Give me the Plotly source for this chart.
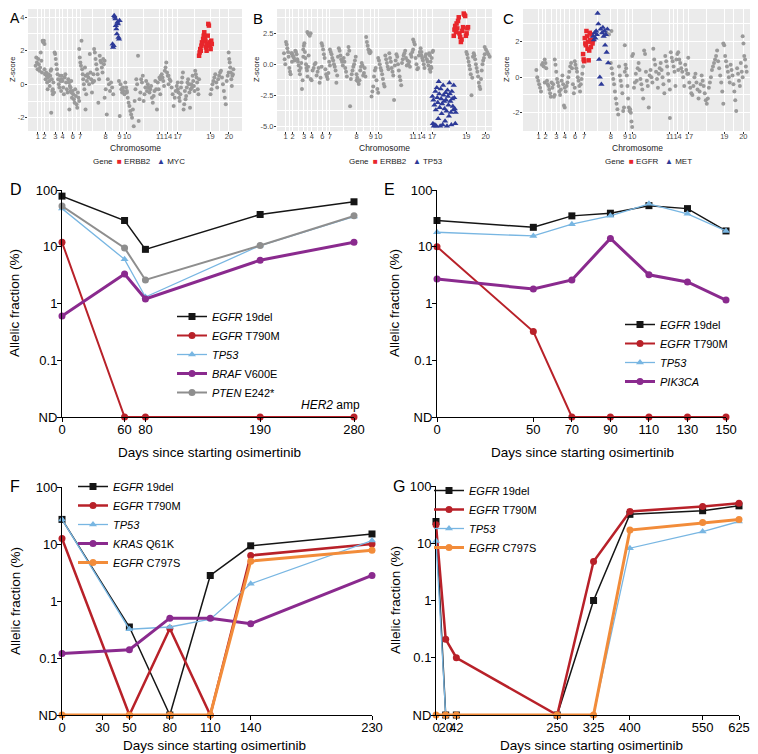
import plotly.graph_objects as go

# reference picture size, and the page's default body margin the figure sits inside
W, H = 758, 754
OFF = 8
FW, FH = W - OFF, H - OFF
FONT = 'Liberation Sans, Arial, sans-serif'

# ---------------- panels A-C: copy-number z-scores ----------------
CHROM = ['1', '2', '3', '4', '6', '7', '8', '9', '10', '11', '14', '17', '19', '20']

# bin positions of chromosome labels (genome-ordered bin index)
A_CHROM_POS = [85, 105, 140, 163, 195, 218, 298, 341, 365, 469, 494, 525, 628, 686]
B_CHROM_POS = [107, 128, 162, 186, 217, 240, 320, 363, 385, 490, 515, 547, 650, 708]
C_CHROM_POS = [117, 138, 170, 195, 226, 253, 333, 376, 397, 510, 533, 567, 673, 730]

# (first bin, last bin, z-scores in bin order)
A_GREY = [
    (78, 98, [1.1, 1.6, 1.3, 0.9, 1.5, 1.2, 0.8, 1.0, 1.9, 1.4, 0.7]),
    (100, 106, [2.6, 2.5, 2.6, 2.4]),
    (106, 132, [0.9, 0.6, 0.3, 0.7, 0.5, 0.1, -0.3, 0.4, 0.6, 0.2, -0.1, 0.5, 0.8, 0.9, 0.3, -0.4, -0.6]),
    (127, 127, [-1.7]),
    (132, 160, [-0.3, 0.1, -0.5, 1.9, 1.8, 1.5, 1.2, 0.9, 0.6, 0.3, 0.0, -0.2, 0.5, 0.2, -0.4, 0.3]),
    (160, 190, [0.5, 0.2, -0.2, -0.6, 0.4, 0.6, 0.1, -0.3, -0.5, 0.3, 0.1, -0.1, -0.4, 0.2]),
    (184, 184, [-1.5]),
    (188, 215, [-0.2, -0.5, -0.8, -0.4, -0.6, -0.9, -1.1, -0.3, -0.7, -1.2, -1.4, -0.5, -0.8, -1.0]),
    (215, 235, [2.1, 1.6, 1.3, 1.1, 2.6, 0.9, 0.6, 0.3, 0.0, -0.3, 1.0, 0.5]),
    (235, 235, [-1.5]),
    (237, 262, [-0.6, 0.2, 0.6, 0.4, 0.0, 1.8, 0.7, 0.3, -0.5, 0.1, 0.6, 0.2]),
    (262, 295, [2.1, 1.9, 1.5, 1.2, 0.9, 0.6, -1.1, 0.3, 1.7, 1.4, 1.3, 1.0, 0.7, 1.5, 1.2, 1.4]),
    (295, 322, [-0.8, -0.3, -1.8, 0.3, 0.0, -0.4, 0.1, -0.2, -0.6]),
    (340, 365, [0.2, -1.9, 0.0, -0.3, -0.5, -0.2, -0.4, -0.6, 0.1, -0.2, -0.5]),
    (365, 400, [-0.4, -0.8, -1.1, -1.3, -1.6, -1.8, -2.0, -1.5, -2.5, -1.0, -0.3, 0.3, 0.0, 1.7]),
    (402, 470, [-2.2, -0.9, -0.5, 0.3, 0.1, 0.5, -1.0, -0.6, -0.2, 0.2, -0.4, 0.0, -0.2, -0.5,
                -0.3, -0.1, -0.8, -1.1, -0.7, -0.4, 0.2, -0.3, -1.5, 0.1, -0.3, 0.4, -0.6]),
    (470, 496, [0.3, 0.5, 0.6, 0.4, 0.2, -0.1, 0.8, 1.0, 1.3, 0.7, 0.5, 0.0]),
    (496, 525, [0.5, 0.3, 0.2, -0.2, -0.6, -1.3, -0.8, -0.4, -0.1, 0.1]),
    (525, 592, [-0.3, -0.5, -0.8, -1.0, -0.6, -0.2, 0.1, 0.4, 0.7, -1.5, -1.2, -0.4, -0.9, -0.7,
                -0.2, 0.1, 0.3, 0.0, -0.5, -1.4, -0.3, 0.0, -0.2, 0.5, 0.2, -0.1, -0.4, 0.8,
                0.6, 0.4, 0.1, -0.3, -0.6, 0.3]),
    (628, 685, [-0.6, -0.3, 0.0, 0.2, 0.4, 0.6, 0.1, -0.2, 0.3, 0.5, 0.7, 0.8, 0.4, 0.0,
                -0.4, -0.8, -1.2, 0.2, 0.5, 0.7]),
    (685, 700, [1.9, 1.5, 1.3, 1.0, 0.7, 0.3, -0.1, 0.5, 0.6, 0.9]),
]
A_ERBB2 = [(592, 632, [1.7, 1.9, 2.1, 2.0, 2.3, 2.5, 2.4, 2.7, 2.9, 3.1, 2.8, 2.6, 2.2, 2.0,
                       2.4, 2.9, 3.6, 3.5, 2.5, 2.3, 2.1, 2.6, 2.4])]
A_MYC = [(320, 342, [2.4, 2.2, 2.3, 4.1, 4.0, 3.9, 3.5, 3.3, 3.0, 3.7, 3.6, 2.8, 2.7, 3.8])]

B_GREY = [
    (102, 126, [0.9, 0.4, 0.0, 1.8, 1.6, 1.3, 1.0, 0.6, -0.3, -0.6, -0.8, 0.9, 0.2]),
    (126, 160, [0.9, 0.7, 0.6, 0.5, 0.3, 1.1, 1.0, 0.8, 0.4, 0.2, -0.1, -0.5, -0.8, -0.3,
                0.1, -2.0, -1.3, 0.6]),
    (160, 176, [1.2, 1.5, 1.7, 1.0, 0.5, 0.0, -0.3, -0.5, -1.0, -0.2, 0.7]),
    (172, 182, [2.6, 2.5, 2.4, 2.3, 2.5]),
    (182, 215, [-1.2, -1.3, -0.5, -0.3, 0.0, 0.1, -0.9, -0.6, -0.3, -1.5, -1.1, -0.2]),
    (215, 240, [1.7, 1.5, 1.2, 0.8, 0.5, -0.4, -0.8, -1.0, -1.2, -0.7, 0.2, -0.1]),
    (240, 320, [1.2, 1.0, 0.8, 0.5, 0.3, 0.0, -0.2, -0.5, -1.5, -0.9, 0.6, 1.3, 1.1, 0.7,
                0.4, 0.2, -0.1, 0.5, 0.2, -0.3, -0.6, -1.0, 0.8, 1.4, 1.1, -3.4, -1.2, -0.8,
                -0.5, -0.2, 0.0, 0.3, 0.6, -1.3]),
    (320, 360, [-0.8, -1.1, -1.4, -1.6, -1.3, -0.5, -0.2, 0.1, -0.1, -0.9, -0.7, -0.3, -1.0,
                2.2, 1.8, 1.5, 1.2, 1.0, 0.9]),
    (360, 385, [1.1, 1.0, -2.6, -2.2, -1.8, -1.0, -0.5, -0.3, -1.3, -2.0, -2.3]),
    (385, 490, [0.5, 0.3, 0.0, -0.3, -0.5, -0.8, -1.2, -1.6, -1.8, 0.7, 0.4, 0.1, -0.2, -0.4,
                0.9, 0.5, 0.2, -0.3, -0.6, -0.9, -2.9, -0.1, 0.3, 0.8, 0.6, 0.0, -0.5, -1.0,
                -1.3, -1.7, 0.1, 0.4, 0.7, 0.9, 1.1, 0.5, -0.1, 0.3, 0.0, 0.2, -0.2, 0.8,
                0.6, 1.0, 1.2]),
    (490, 515, [2.0, 1.8, 1.6, 0.5, 0.0, -0.4, -0.3, 0.7, 1.0, 1.3, 1.0]),
    (515, 545, [0.7, 0.5, 0.3, 0.0, -0.3, 0.6, 0.8, 0.4, 0.2, -0.1, 0.9, 0.7, 0.2, -0.3]),
    (540, 550, [-0.4, -0.6, -0.2, 0.5, 1.0, 1.1]),
    (650, 705, [1.0, 0.8, 0.5, 0.2, -0.1, -0.4, -0.8, -2.5, -1.1, 0.6, 0.9, 0.7, 0.4, 0.0,
                -0.3, -0.6, -1.0, -1.5, -1.8, -2.0, -1.2, -0.5, 0.0, 0.3, 0.5, 0.8]),
    (705, 720, [1.4, 1.2, 1.0, 0.8, 0.6]),
]
B_ERBB2 = [(612, 655, [2.3, 2.8, 3.1, 2.6, 3.3, 2.9, 3.5, 3.8, 2.5, 2.2, 1.8, 2.0, 2.7, 3.0,
                       4.1, 4.0, 3.9, 2.3, 2.5, 2.9, 3.0])]
B_TP53 = [(548, 618, [-2.6, -4.8, -2.9, -5.0, -3.3, -4.9, -2.2, -3.7, -5.0, -1.9, -2.7, -3.1,
                      -4.4, -1.4, -2.4, -3.5, -5.0, -2.0, -2.8, -4.0, -3.2, -4.9, -1.7, -2.5,
                      -3.0, -3.6, -4.6, -2.3, -2.9, -3.8, -5.0, -2.1, -2.6, -3.3, -4.2, -1.5,
                      -2.4, -3.0, -3.9, -4.9, -2.2, -2.8, -3.4, -3.7, -1.7, -2.7, -3.6, -4.8,
                      -3.9])]

C_GREY = [
    (110, 135, [0.4, 0.0, -0.2, -0.4, -0.6, -0.8, 0.7, 0.8, 0.6, -0.3]),
    (135, 165, [1.0, 0.8, 0.5, -0.2, -0.4, -0.5, -0.7, -0.9, -1.1, -0.3, -0.6, -0.4, -1.1, -1.0]),
    (165, 195, [1.0, 0.7, 0.3, -0.1, -0.3, -0.5, -0.8, -1.0, -0.7, -0.2, 0.1, -0.4, -1.6, -0.6]),
    (195, 225, [-1.7, -0.8, -0.5, -0.3, 0.0, 0.3, 0.6, 0.8, 0.5, -0.4, -0.9, -0.6]),
    (225, 250, [0.9, 0.7, 0.5, 0.3, 0.0, -0.2, -0.5, -0.8, -0.4, -0.1, 0.2, 0.6]),
    (320, 335, [2.5, 2.4, 2.6]),
    (333, 375, [0.8, 0.5, 0.2, -0.1, -0.4, -0.8, -1.2, -1.5, -1.8, -2.1, 0.6, 0.1, -0.2, -0.5,
                -0.9, -1.9, -1.7, 0.3]),
    (375, 397, [1.8, 0.7, 0.5, 0.1, -0.5, -1.2, -1.7, -1.9, -1.8, -2.0, -2.5, -2.8]),
    (397, 510, [1.2, 1.3, -0.6, -0.3, 0.2, -0.2, 0.5, 0.8, 0.4, -0.1, -0.4, -0.7, -1.2, 1.5,
                1.3, 0.3, -0.2, -0.5, -1.7, 0.1, 0.4, 0.0, -0.3, 1.6, 1.0, 0.7, 0.3, -0.1,
                -0.6, 0.2, 0.5, 0.8, 0.4, 0.0, -0.4, -0.9, 1.2, 0.9, 0.6, 0.2, -0.2, -0.7]),
    (510, 535, [-2.3, 1.4, 1.1, 0.9, 0.6, 0.3, -0.5, 1.0, 1.3, 0.4]),
    (535, 565, [1.4, 1.0, 0.8, 0.5, 0.3, 0.0, -0.5, 0.7, 0.4, 0.2, 1.1]),
    (565, 670, [0.2, -0.3, -0.6, -0.9, -1.0, -0.5, 0.0, 0.2, -0.3, -0.7, -1.2, -0.8, -0.4, 0.1,
                -0.2, -0.5, -0.9, -1.3, -1.5, -1.2, -0.6, -0.3, 0.0, 0.4, 0.6, 0.8, 1.0, 1.2,
                1.5, 0.9, 0.5, 0.1, -0.3, -0.8, -1.5]),
    (670, 728, [1.9, 1.8, 1.2, 0.9, 0.6, 0.3, 0.0, -0.3, 0.7, 0.4, 0.1, -0.4, -0.8, -1.3,
                -1.9, 0.5, 0.2, -0.2, -0.5, 0.8, 0.3, 0.0]),
    (728, 740, [2.3, 1.9, 1.2, 1.0, 0.6, 0.3]),
]
C_EGFR = [(250, 280, [1.3, 1.0, 0.9, 2.2, 1.9, 1.8, 2.6, 2.3, 1.6, 2.0, 0.95, 1.5, 2.5, 2.1,
                      1.7, 2.4, 2.0, 1.9, 2.1])]
C_MET = [(280, 325, [2.3, 2.1, 2.5, 2.2, 2.6, 2.4, 3.6, 3.0, 1.0, 0.0, 2.7, -0.4, 2.5, 2.8,
                     2.3, 2.6, 1.8, 2.4, 1.4, 2.7, 0.8])]

# ---------------- panels D-G: allelic fraction over time ----------------
ND = 0.01  # not detected
AF_TICKS = [0.01, 0.1, 1, 10, 100]
AF_LABELS = ['ND', '0.1', '1', '10', '100']

D_DAYS = [0, 60, 80, 190, 280]
D_EGFR_DEL = [78, 29, 9, 37, 62]
D_T790M = [12, ND, ND, ND, ND]
D_TP53 = [47, 6, 1.3, 10.5, 34]
D_BRAF = [0.6, 3.3, 1.2, 5.8, 12]
D_PTEN = [52, 9.5, 2.6, 10.5, 35]

E_DAYS = [0, 50, 70, 90, 110, 130, 150]
E_EGFR_DEL = [29, 22, 35, 39, 53, 47, 19]
E_T790M = [10, 0.32, ND, ND, ND, ND, ND]
E_TP53 = [18, 15.5, 25, 35, 57, 38, 19]
E_PIK3CA = [2.7, 1.8, 2.6, 14, 3.2, 2.4, 1.15]

F_DAYS = [0, 50, 80, 110, 140, 230]
F_TICKS = [0, 30, 50, 80, 110, 140, 230]
F_EGFR_DEL = [27, 0.35, ND, 2.8, 9.3, 15]
F_T790M = [12.5, ND, 0.33, ND, 6.3, 10]
F_TP53 = [27, 0.32, 0.35, 0.48, 2.0, 11.5]
F_KRAS = [0.12, 0.14, 0.5, 0.5, 0.4, 2.8]
F_C797S = [ND, ND, ND, ND, 5, 7.8]

G_DAYS = [0, 20, 42, 250, 325, 400, 550, 625]
G_EGFR_DEL = [24, ND, ND, ND, 1.0, 32, 37, 45]
G_T790M = [21, 0.21, 0.1, ND, 4.8, 36, 44, 50]
G_TP53 = [11, ND, ND, ND, ND, 8.2, 16, 24]
G_C797S = [ND, ND, ND, ND, ND, 17, 23, 26]

BLACK = '#151515'
RED = '#B82129'
LBLUE = '#78B6E2'
PURPLE = '#8A2A8E'
GREY = '#8E8E8E'
ORANGE = '#F28C3A'

PT_GREY = '#9A9A9A'
PT_RED = '#E8262B'
PT_BLUE = '#2D3A98'


def spread(segments):
    xs, ys = [], []
    for x0, x1, vals in segments:
        step = (x1 - x0) / max(len(vals) - 1, 1)
        for i, v in enumerate(vals):
            xs.append(x0 + i * step)
            ys.append(v)
    return xs, ys


# page pixel -> paper fraction
def px(x):
    return (x - OFF) / FW


def py(y):
    return 1 - (y - OFF) / FH


def xd(left, right):
    return [px(left), px(right)]


def yd(top, bottom):
    return [py(bottom), py(top)]


fig = go.Figure()

# ---- top scatter panels ----
top_panels = [
    ('x', 'y', A_GREY, [(A_ERBB2, PT_RED, 'square', 4.5), (A_MYC, PT_BLUE, 'triangle-up', 5.5)]),
    ('x2', 'y2', B_GREY, [(B_ERBB2, PT_RED, 'square', 4.5), (B_TP53, PT_BLUE, 'triangle-up', 5.5)]),
    ('x3', 'y3', C_GREY, [(C_EGFR, PT_RED, 'square', 4.5), (C_MET, PT_BLUE, 'triangle-up', 5.5)]),
]
for xa, ya, grey, genes in top_panels:
    gx, gy = spread(grey)
    fig.add_trace(go.Scatter(x=gx, y=gy, xaxis=xa, yaxis=ya, mode='markers',
                             marker=dict(color=PT_GREY, size=4), showlegend=False))
    for seg, col, sym, size in genes:
        sx, sy = spread(seg)
        fig.add_trace(go.Scatter(x=sx, y=sy, xaxis=xa, yaxis=ya, mode='markers',
                                 marker=dict(color=col, size=size, symbol=sym), showlegend=False))

# ---- bottom time-course panels ----
def course(xa, ya, legend, days, vals, name, color, symbol, width, msize=7):
    fig.add_trace(go.Scatter(
        x=days, y=vals, xaxis=xa, yaxis=ya, name=name, legend=legend,
        mode='lines+markers', cliponaxis=False,
        line=dict(color=color, width=width),
        marker=dict(color=color, symbol=symbol, size=msize),
    ))


course('x4', 'y4', 'legend', D_DAYS, D_EGFR_DEL, '<i>EGFR</i> 19del', BLACK, 'square', 1.5)
course('x4', 'y4', 'legend', D_DAYS, D_T790M, '<i>EGFR</i> T790M', RED, 'circle', 2)
course('x4', 'y4', 'legend', D_DAYS, D_TP53, '<i>TP53</i>', LBLUE, 'triangle-up', 1.3)
course('x4', 'y4', 'legend', D_DAYS, D_BRAF, '<i>BRAF</i> V600E', PURPLE, 'circle', 3)
course('x4', 'y4', 'legend', D_DAYS, D_PTEN, '<i>PTEN</i> E242*', GREY, 'circle', 2)

course('x5', 'y5', 'legend2', E_DAYS, E_EGFR_DEL, '<i>EGFR</i> 19del', BLACK, 'square', 1.5)
course('x5', 'y5', 'legend2', E_DAYS, E_T790M, '<i>EGFR</i> T790M', RED, 'circle', 2)
course('x5', 'y5', 'legend2', E_DAYS, E_TP53, '<i>TP53</i>', LBLUE, 'triangle-up', 1.3)
course('x5', 'y5', 'legend2', E_DAYS, E_PIK3CA, '<i>PIK3CA</i>', PURPLE, 'circle', 3)

course('x6', 'y6', 'legend3', F_DAYS, F_EGFR_DEL, '<i>EGFR</i> 19del', BLACK, 'square', 1.5)
course('x6', 'y6', 'legend3', F_DAYS, F_T790M, '<i>EGFR</i> T790M', RED, 'circle', 2.5)
course('x6', 'y6', 'legend3', F_DAYS, F_TP53, '<i>TP53</i>', LBLUE, 'triangle-up', 1.3)
course('x6', 'y6', 'legend3', F_DAYS, F_KRAS, '<i>KRAS</i> Q61K', PURPLE, 'circle', 3)
course('x6', 'y6', 'legend3', F_DAYS, F_C797S, '<i>EGFR</i> C797S', ORANGE, 'circle', 3)

course('x7', 'y7', 'legend4', G_DAYS, G_EGFR_DEL, '<i>EGFR</i> 19del', BLACK, 'square', 1.5)
course('x7', 'y7', 'legend4', G_DAYS, G_T790M, '<i>EGFR</i> T790M', RED, 'circle', 2.5)
course('x7', 'y7', 'legend4', G_DAYS, G_TP53, '<i>TP53</i>', LBLUE, 'triangle-up', 1.3)
course('x7', 'y7', 'legend4', G_DAYS, G_C797S, '<i>EGFR</i> C797S', ORANGE, 'circle', 3)

# ---- axes ----
def mids(pos):
    return [(a + b) / 2 for a, b in zip(pos[:-1], pos[1:])]


def top_x(domain, rng, pos):
    return dict(domain=domain, range=rng, tickmode='array', tickvals=pos, ticktext=CHROM,
                tickangle=0, showgrid=True, gridcolor='white', gridwidth=1.1, zeroline=False,
                showline=False, ticks='outside', ticklen=2, tickcolor='#333333', tickwidth=0.8,
                tickfont=dict(size=7.5, color='#4D4D4D'), automargin=False,
                ticklabelstandoff=-4,
                minor=dict(tickmode='array', tickvals=mids(pos), showgrid=True,
                           gridcolor='white', gridwidth=0.5))


def top_y(domain, rng, vals, labels, minor):
    return dict(domain=domain, range=rng, tickmode='array', tickvals=vals, ticktext=labels,
                showgrid=True, gridcolor='white', gridwidth=1.1, zeroline=False, showline=False,
                ticks='outside', ticklen=2, tickcolor='#333333', tickwidth=0.8,
                tickfont=dict(size=7.5, color='#4D4D4D'), automargin=False,
                ticklabelstandoff=-1,
                minor=dict(tickmode='array', tickvals=minor, showgrid=True,
                           gridcolor='white', gridwidth=0.5))


def af_x(domain, rng, ticks, anchor):
    return dict(domain=domain, range=rng, tickmode='array', tickvals=ticks, tickangle=0,
                showgrid=False, zeroline=False, showline=True, linecolor='black',
                linewidth=1, ticks='outside', ticklen=4, tickcolor='black',
                tickfont=dict(size=13, color='black'), anchor=anchor, automargin=False,
                ticklabelstandoff=-4)


def af_y(domain, anchor):
    return dict(domain=domain, type='log', range=[-2, 2], tickmode='array',
                tickvals=AF_TICKS, ticktext=AF_LABELS, showgrid=False, zeroline=False,
                showline=True, linecolor='black', linewidth=1, ticks='outside', ticklen=4,
                tickcolor='black', tickfont=dict(size=13, color='black'), anchor=anchor,
                automargin=False, ticklabelstandoff=-3)


TOP = yd(9, 131)
layout_axes = dict(
    xaxis=top_x(xd(28, 242), [54, 727], A_CHROM_POS),
    yaxis=top_y(TOP, [-2.79, 4.49], [-2, 0, 2, 4], ['-2', '0', '2', '4'], [-1, 1, 3]),
    xaxis2=top_x(xd(277, 492), [81, 727], B_CHROM_POS),
    yaxis2=top_y(TOP, [-5.4, 4.47], [-5, -2.5, 0, 2.5], ['-5.0', '-2.5', '0.0', '2.5'],
                 [-3.75, -1.25, 1.25, 3.75]),
    xaxis3=top_x(xd(523, 750), [70, 750], C_CHROM_POS),
    yaxis3=top_y(TOP, [-3.03, 3.84], [-2, 0, 2], ['-2', '0', '2'], [-3, -1, 1, 3]),
    xaxis4=af_x(xd(62, 354), [0, 280], D_DAYS, 'y4'),
    yaxis4=af_y(yd(190, 417), 'x4'),
    xaxis5=af_x(xd(437, 726), [0, 150], E_DAYS, 'y5'),
    yaxis5=af_y(yd(190, 417), 'x5'),
    xaxis6=af_x(xd(62, 372), [0, 230], F_TICKS, 'y6'),
    yaxis6=af_y(yd(487, 715), 'x6'),
    xaxis7=af_x(xd(436, 739), [0, 625], G_DAYS, 'y7'),
    yaxis7=af_y(yd(486, 715), 'x7'),
)
for xa, ya in [('x', 'y'), ('x2', 'y2'), ('x3', 'y3')]:
    layout_axes['xaxis' + xa[1:]]['anchor'] = ya
    layout_axes['yaxis' + ya[1:]]['anchor'] = xa

# grey ggplot panel backgrounds
shapes = []
for xa, ya in [('x', 'y'), ('x2', 'y2'), ('x3', 'y3')]:
    shapes.append(dict(type='rect', xref=xa + ' domain', yref=ya + ' domain', x0=0, x1=1,
                       y0=0, y1=1, fillcolor='#EBEBEB', line=dict(width=0), layer='below'))

# ---- annotations: panel letters, axis titles, gene keys ----
ann = []


def text(x, y, s, size, color='black', angle=0, xanchor='center', yanchor='middle'):
    ann.append(dict(x=px(x), y=py(y), xref='paper', yref='paper', text=s, showarrow=False,
                    font=dict(size=size, color=color, family=FONT), textangle=angle,
                    xanchor=xanchor, yanchor=yanchor))


for letter, x, y, ya, size in [('A', 8, 8, 'top', 14), ('B', 251, 8, 'top', 15),
                               ('C', 501, 8, 'top', 15),
                               ('D', 8, 190, 'middle', 16), ('E', 382, 190, 'middle', 16),
                               ('F', 8, 486, 'middle', 16), ('G', 391, 486, 'middle', 16)]:
    text(x, y, letter, size, xanchor='left', yanchor=ya)

for cx, zx in [(135, 12), (384, 256), (637, 506)]:
    text(cx, 147.5, 'Chromosome', 8.5, '#222222')
    text(zx, 70, 'Z-score', 7.5, '#222222', angle=-90)

gene_keys = [(139, 'ERBB2', 'MYC'), (396, 'ERBB2', 'TP53'), (648, 'EGFR', 'MET')]
for cx, red_gene, blue_gene in gene_keys:
    text(cx, 161,
         'Gene  <span style="color:%s">\u25A0</span> %s   <span style="color:%s">\u25B2</span> %s'
         % (PT_RED, red_gene, PT_BLUE, blue_gene), 8, '#222222')

for cx, cy, yx, yy in [(210, 453, 15, 303), (582, 453, 395, 303),
                       (214, 745, 15, 601), (591, 745, 395, 600)]:
    text(cx, cy, 'Days since starting osimertinib', 13.5)
    text(yx, yy, 'Allelic fraction (%)', 13.5, angle=-90)

text(362, 405, '<i>HER2</i> amp', 12, xanchor='right')

legend_style = dict(bgcolor='rgba(0,0,0,0)', font=dict(size=11, family=FONT, color='black'),
                    xanchor='left', yanchor='top', tracegroupgap=0, itemwidth=30)

fig.update_layout(
    width=FW, height=FH, autosize=False,
    margin=dict(l=0, r=0, t=0, b=0),
    paper_bgcolor='white', plot_bgcolor='rgba(0,0,0,0)',
    font=dict(family=FONT, color='black'),
    showlegend=True,
    shapes=shapes,
    annotations=ann,
    legend=dict(x=px(172), y=py(302), **legend_style),
    legend2=dict(x=px(620), y=py(310), **legend_style),
    legend3=dict(x=px(73), y=py(472), **legend_style),
    legend4=dict(x=px(429), y=py(476), **legend_style),
    **layout_axes,
)

fig.write_html('out.html')
